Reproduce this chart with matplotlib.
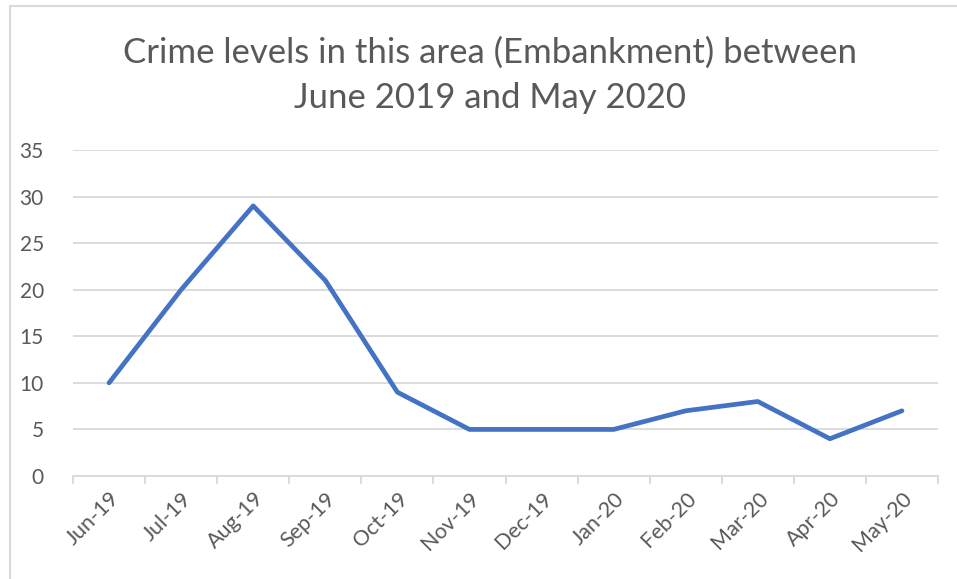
import matplotlib
matplotlib.use("Agg")
import matplotlib.pyplot as plt
from matplotlib.lines import Line2D

months = ["Jun-19", "Jul-19", "Aug-19", "Sep-19", "Oct-19", "Nov-19",
          "Dec-19", "Jan-20", "Feb-20", "Mar-20", "Apr-20", "May-20"]
crimes = [10, 20, 29, 21, 9, 5, 5, 5, 7, 8, 4, 7]
yticks = [0, 5, 10, 15, 20, 25, 30, 35]
title = "Crime levels in this area (Embankment) between\nJune 2019 and May 2020"

plt.rcParams['font.family'] = ['Lato', 'DejaVu Sans']
txt = '#595959'
grid = '#D9D9D9'

W, H = 957, 579
fig = plt.figure(figsize=(W/100, H/100), dpi=100)
ax = fig.add_axes([73/W, 1-476/H, (938-73)/W, (476-150)/H])

x = list(range(len(months)))
ax.plot(x, crimes, color='#4472C4', lw=3.4, solid_joinstyle='round', solid_capstyle='round', zorder=3)

ax.set_xlim(-0.5, len(months)-0.5)
ax.set_ylim(0, 35)
ax.set_yticks(yticks)
ax.set_yticklabels([str(v) for v in yticks], color=txt, fontsize=15)
ax.tick_params(axis='y', length=0, pad=21)
ax.yaxis.grid(True, color=grid, lw=1.3)
ax.set_axisbelow(True)

ax.set_xticks([i - 0.5 for i in range(len(months)+1)], minor=False)
ax.set_xticklabels([''] * (len(months)+1))
ax.tick_params(axis='x', which='major', length=6, width=1.3, color=grid, direction='out')
ax.set_xticks(x, minor=True)
ax.set_xticklabels(months, minor=True, rotation=45, ha='right', va='top',
                   rotation_mode='anchor', color=txt, fontsize=15.5)
ax.tick_params(axis='x', which='minor', length=0, pad=9)

for s in ['top', 'right', 'left']:
    ax.spines[s].set_visible(False)
ax.spines['bottom'].set_color(grid)
ax.spines['bottom'].set_linewidth(1.3)

fig.text(490/W, 1-75/H, title, ha='center', va='center', fontsize=25,
         color=txt, linespacing=1.5)

# chart border (top and left visible)
fig.add_artist(Line2D([10/W, 1], [1-6/H, 1-6/H], color=grid, lw=1.5, transform=fig.transFigure))
fig.add_artist(Line2D([10/W, 10/W], [0, 1-6/H], color=grid, lw=1.5, transform=fig.transFigure))

fig.savefig("out.png", dpi=100, facecolor='white')
